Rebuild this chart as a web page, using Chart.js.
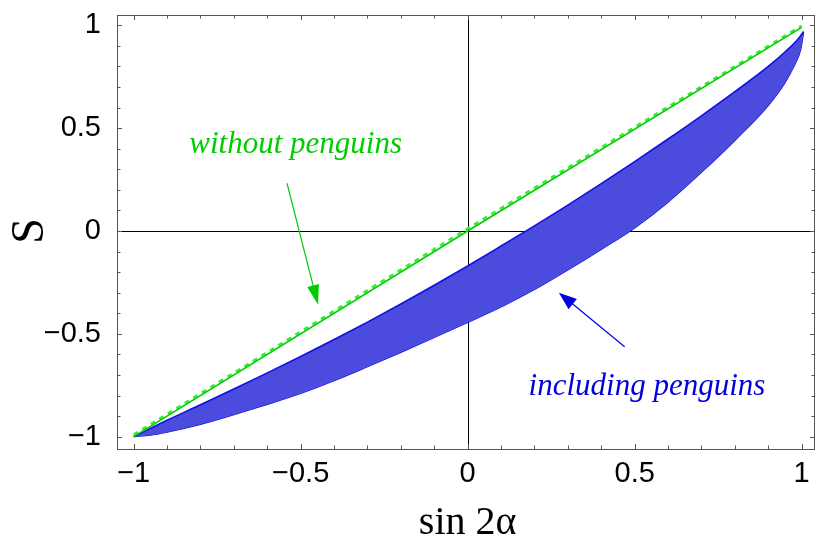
<!DOCTYPE html>
<html><head><meta charset="utf-8">
<script src="https://cdn.jsdelivr.net/npm/chart.js@4.4.0/dist/chart.umd.min.js"></script>
<style>html,body{margin:0;padding:0;background:#fff}#wrap{width:816px;height:541px;position:relative}</style>
</head><body><div id="wrap"><canvas id="c" width="816" height="541"></canvas></div>
<script>
// ---- data ----
const greenX = [-1, 0, 1];
const greenS = [-1, 0, 0.99];
const greenDashS = [-0.99, 0.012, 0.998];

const bandLowerX = [-1, -0.95, -0.9, -0.8, -0.7, -0.6, -0.5, -0.4, -0.3, -0.2, -0.1, 0, 0.1, 0.2, 0.3, 0.4, 0.5, 0.6, 0.7, 0.8, 0.9, 0.95, 0.98, 0.997, 1.006];
const bandLowerS = [-1, -0.993, -0.978, -0.94, -0.893, -0.843, -0.79, -0.728, -0.66, -0.59, -0.518, -0.445, -0.37, -0.285, -0.19, -0.09, 0.015, 0.14, 0.285, 0.44, 0.61, 0.72, 0.81, 0.88, 0.965];

const bandUpperX = [-1, -0.9, -0.8, -0.7, -0.6, -0.5, -0.4, -0.3, -0.2, -0.1, 0, 0.1, 0.2, 0.3, 0.4, 0.5, 0.6, 0.7, 0.8, 0.9, 0.95, 0.99, 1.006];
const bandUpperS = [-1, -0.92, -0.845, -0.768, -0.69, -0.61, -0.528, -0.443, -0.355, -0.264, -0.17, -0.073, 0.025, 0.126, 0.23, 0.337, 0.447, 0.56, 0.677, 0.8, 0.87, 0.935, 0.97];

const xTickValues = [-1, -0.5, 0, 0.5, 1];
const xTickLabels = ["\u22121", "\u22120.5", "0", "0.5", "1"];
const yTickValues = [-1, -0.5, 0, 0.5, 1];
const yTickLabels = ["\u22121", "\u22120.5", "0", "0.5", "1"];
const minorTicks = [-1, -0.9, -0.8, -0.7, -0.6, -0.5, -0.4, -0.3, -0.2, -0.1, 0, 0.1, 0.2, 0.3, 0.4, 0.5, 0.6, 0.7, 0.8, 0.9, 1];

const noteTexts = ["without penguins", "including penguins"];
const noteAnchors = [[-0.515, 0.379], [0.537, -0.796]];
const noteColors = ["#00cc00", "#0000dd"];
const arrowFrom = [[-0.541, 0.232], [0.470, -0.563]];
const arrowTo = [[-0.448, -0.359], [0.273, -0.300]];

const xTitle = "sin 2\u03b1";
const yTitle = "S";

const pts = (xs, ys) => xs.map((x, i) => ({x: x, y: ys[i]}));

const decor = {
  id: 'decor',
  beforeDatasetsDraw(chart) {
    const {ctx, chartArea: a, scales: {x, y}} = chart;
    ctx.save();
    ctx.strokeStyle = '#000';
    ctx.lineWidth = 1;
    ctx.beginPath();
    const x0 = Math.round(x.getPixelForValue(0)) + 0.5;
    const y0 = Math.round(y.getPixelForValue(0)) + 0.5;
    ctx.moveTo(x0, a.top); ctx.lineTo(x0, a.bottom);
    ctx.moveTo(a.left, y0); ctx.lineTo(a.right, y0);
    ctx.stroke();
    ctx.restore();
  },
  afterDatasetsDraw(chart) {
    const {ctx, chartArea: a, scales: {x, y}} = chart;
    ctx.save();
    // frame
    ctx.strokeStyle = '#555';
    ctx.lineWidth = 1;
    ctx.strokeRect(Math.round(a.left) + 0.5, Math.round(a.top) + 0.5, Math.round(a.right - a.left) - 1, Math.round(a.bottom - a.top));
    // ticks
    ctx.beginPath();
    minorTicks.forEach(v => {
      const major = xTickValues.some(t => Math.abs(t - v) < 1e-9);
      const L = major ? 5 : 3.5;
      const px = Math.round(x.getPixelForValue(v)) + 0.5;
      ctx.moveTo(px, a.bottom); ctx.lineTo(px, a.bottom - L);
      ctx.moveTo(px, a.top); ctx.lineTo(px, a.top + L);
      const py = Math.round(y.getPixelForValue(v)) + 0.5;
      ctx.moveTo(a.left, py); ctx.lineTo(a.left + L, py);
      ctx.moveTo(a.right, py); ctx.lineTo(a.right - L, py);
    });
    ctx.stroke();
    // notes
    ctx.font = 'italic 31px "Liberation Serif", "DejaVu Serif", serif';
    ctx.textAlign = 'center';
    ctx.textBaseline = 'alphabetic';
    noteTexts.forEach((t, i) => {
      ctx.fillStyle = noteColors[i];
      ctx.fillText(t, x.getPixelForValue(noteAnchors[i][0]), y.getPixelForValue(noteAnchors[i][1]));
    });
    // arrows
    const heads = [[20, 6], [18, 6.5]];
    arrowFrom.forEach((f, i) => {
      const x1 = x.getPixelForValue(f[0]), y1 = y.getPixelForValue(f[1]);
      const x2 = x.getPixelForValue(arrowTo[i][0]), y2 = y.getPixelForValue(arrowTo[i][1]);
      const dx = x2 - x1, dy = y2 - y1, len = Math.hypot(dx, dy);
      const ux = dx / len, uy = dy / len;
      const [hl, hw] = heads[i];
      ctx.strokeStyle = noteColors[i];
      ctx.fillStyle = noteColors[i];
      ctx.lineWidth = 1.2;
      ctx.beginPath();
      ctx.moveTo(x1, y1); ctx.lineTo(x2 - ux * hl * 0.8, y2 - uy * hl * 0.8);
      ctx.stroke();
      ctx.beginPath();
      ctx.moveTo(x2, y2);
      ctx.lineTo(x2 - ux * hl - uy * hw, y2 - uy * hl + ux * hw);
      ctx.lineTo(x2 - ux * hl + uy * hw, y2 - uy * hl - ux * hw);
      ctx.closePath();
      ctx.fill();
    });
    // axis titles
    ctx.fillStyle = '#000';
    ctx.font = '40px "Liberation Serif", "DejaVu Serif", serif';
    ctx.textAlign = 'center';
    ctx.textBaseline = 'middle';
    ctx.fillText(xTitle, x.getPixelForValue(0), 523);
    ctx.save();
    ctx.translate(29, y.getPixelForValue(0));
    ctx.rotate(-Math.PI / 2);
    ctx.font = '46px "Liberation Serif", "DejaVu Serif", serif';
    ctx.fillText(yTitle, 0, 2);
    ctx.restore();
    ctx.restore();
  }
};

const tickFont = {family: '"Liberation Sans", Arial, sans-serif', size: 29};

new Chart(document.getElementById('c'), {
  type: 'scatter',
  data: {
    datasets: [
      {label: 'lower', data: pts(bandLowerX, bandLowerS), showLine: true, borderColor: '#1010e0', borderWidth: 1.2, pointRadius: 0, fill: false, cubicInterpolationMode: 'monotone', order: 3},
      {label: 'upper', data: pts(bandUpperX, bandUpperS), showLine: true, borderColor: '#1010e0', borderWidth: 1.6, pointRadius: 0, fill: '-1', backgroundColor: 'rgb(75,75,222)', cubicInterpolationMode: 'monotone', order: 2},
      {label: 'green dashed', data: pts(greenX, greenDashS), showLine: true, borderColor: '#33ee33', borderWidth: 2.5, borderDash: [5, 5], pointRadius: 0, fill: false, order: 1},
      {label: 'green', data: pts(greenX, greenS), showLine: true, borderColor: '#00cc00', borderWidth: 1.6, pointRadius: 0, fill: false, order: 0}
    ]
  },
  options: {
    responsive: false,
    animation: false,
    layout: {padding: {left: 0, right: 1, top: 15, bottom: 0}},
    plugins: {legend: {display: false}, tooltip: {enabled: false}},
    scales: {
      x: {
        type: 'linear', min: -1.05, max: 1.04,
        grid: {display: false, drawTicks: false}, border: {display: false},
        afterFit: s => { s.height = 92; s.paddingLeft = 0; s.paddingRight = 0; },
        afterBuildTicks: s => { s.ticks = xTickValues.map(v => ({value: v})); },
        ticks: {padding: 8, font: tickFont, color: '#000', maxRotation: 0, autoSkip: false,
          callback: v => { const i = xTickValues.findIndex(t => Math.abs(t - v) < 1e-9); return i >= 0 ? xTickLabels[i] : ''; }}
      },
      y: {
        type: 'linear', min: -1.06, max: 1.05,
        grid: {display: false, drawTicks: false}, border: {display: false},
        afterFit: s => { s.width = 117; s.paddingTop = 0; s.paddingBottom = 0; },
        afterBuildTicks: s => { s.ticks = yTickValues.map(v => ({value: v})); },
        ticks: {padding: 16, font: tickFont, color: '#000', autoSkip: false,
          callback: v => { const i = yTickValues.findIndex(t => Math.abs(t - v) < 1e-9); return i >= 0 ? yTickLabels[i] : ''; }}
      }
    }
  },
  plugins: [decor]
});
</script>
</body></html>
